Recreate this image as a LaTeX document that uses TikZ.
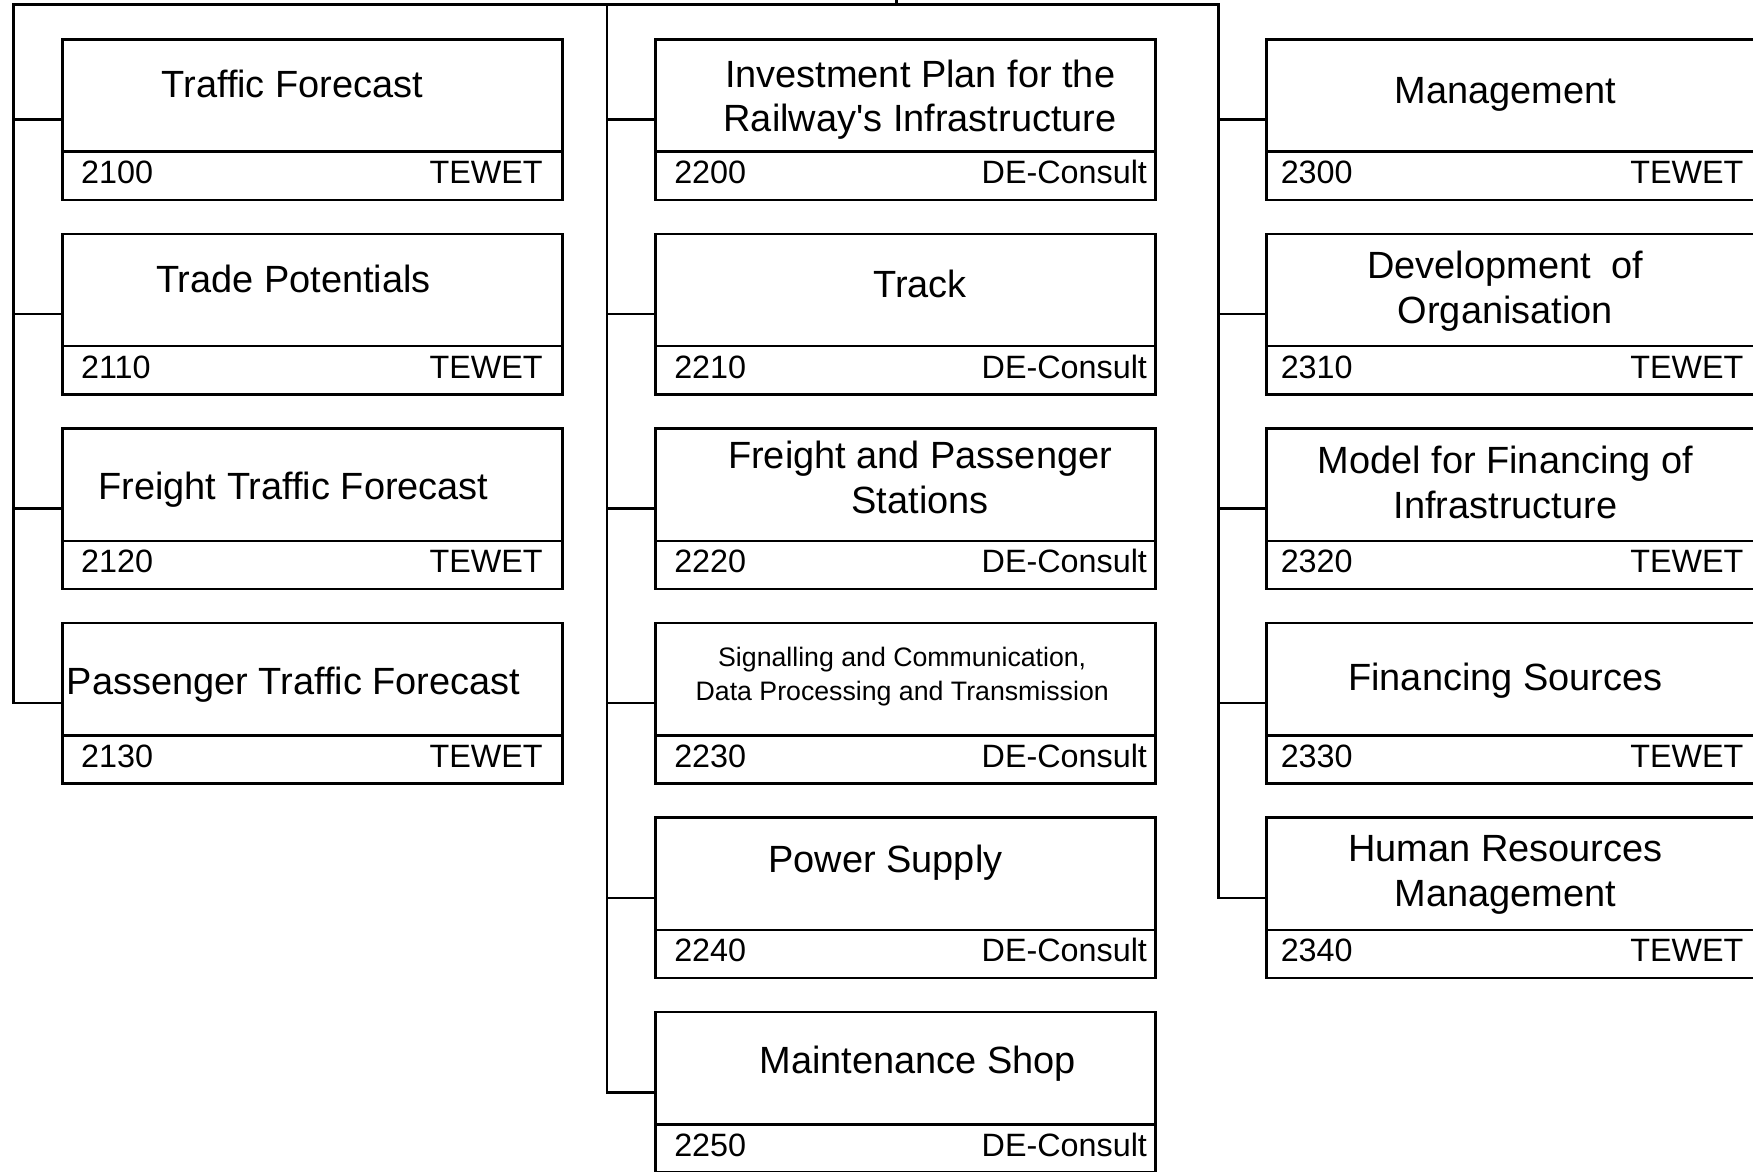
\documentclass[tikz,border=0pt]{standalone}
\usepackage{fontspec}
\setmainfont{Liberation Sans}
\usetikzlibrary{calc}

\tikzset{
  tree/.style={line width=0.7pt},
  wpbox/.style={draw, line width=0.7pt, minimum width=5cm, minimum height=1.604cm,
    inner sep=0pt, outer sep=0pt},
  wptitle/.style={align=center, inner sep=0pt, font=\fontsize{10.8}{12.7}\selectfont},
  wpsmall/.style={wptitle, font=\fontsize{7.6}{9.5}\selectfont},
  wpcode/.style={inner sep=0pt, font=\fontsize{9.2}{11}\selectfont},
}

\begin{document}
\begin{tikzpicture}[x=0.01118cm, y=-0.01118cm]
\useasboundingbox (0,0) rectangle (1568,1048);
\clip (0,0) rectangle (1568,1048);

\coordinate (top) at (802,0);
\coordinate (lspine) at (12,4);
\coordinate (mspine) at (543,4);
\coordinate (rspine) at (1090,4);

% left column: 2100 ... 2130
\foreach \r/\code/\title/\dx/\dy in {0/2100/Traffic Forecast/-18/-10,
    1/2110/Trade Potentials/-17/-10,
    2/2120/Freight Traffic Forecast/-17/5,
    3/2130/Passenger Traffic Forecast/-17/5}{
  \node[wpbox] (b\code) at (279.5,107+174*\r) {};
  \draw[tree] ($(b\code.south west)+(0,-43)$) -- ($(b\code.south east)+(0,-43)$);
  \node[wptitle] (t\code) at ($(b\code.north)+(\dx,50+\dy)$) {\title};
  \node[wpcode, anchor=base west] (c\code) at ($(b\code.south west)+(16,-14.5)$) {\code};
  \node[wpcode, anchor=base east] (f\code) at ($(b\code.south east)+(-17,-14.5)$) {TEWET};
  \draw[tree] (b\code.west) -- (b\code.west -| lspine);
}

% middle column: 2200 ... 2250
\foreach \r/\code/\title/\dx/\dy/\st in {0/2200/{Investment Plan for the\\Railway\textquotesingle s Infrastructure}/13/4/wptitle,
    1/2210/Track/13/-5/wptitle,
    2/2220/{Freight and Passenger\\Stations}/13/-6/wptitle,
    3/2230/{Signalling and Communication,\\Data Processing and Transmission}/-3/-2/wpsmall,
    4/2240/Power Supply/-18/-10/wptitle,
    5/2250/Maintenance Shop/11/-4/wptitle}{
  \node[wpbox] (b\code) at (810,107+174*\r) {};
  \draw[tree] ($(b\code.south west)+(0,-43)$) -- ($(b\code.south east)+(0,-43)$);
  \node[\st] (t\code) at ($(b\code.north)+(\dx,50+\dy)$) {\title};
  \node[wpcode, anchor=base west] (c\code) at ($(b\code.south west)+(16,-14.5)$) {\code};
  \node[wpcode, anchor=base east] (f\code) at ($(b\code.south east)+(-7,-14.5)$) {DE-Consult};
  \draw[tree] (b\code.west) -- (b\code.west -| mspine);
}

% right column: 2300 ... 2340
\foreach \r/\code/\title/\dx/\dy in {0/2300/Management/-10/-1,
    1/2310/{Development\ \ of\\Organisation}/-10/1,
    2/2320/{Model for Financing of\\Infrastructure}/-10/-2,
    3/2330/Financing Sources/-10/2,
    4/2340/{Human Resources\\Management}/-10/1}{
  \node[wpbox] (b\code) at (1356.5,107+174*\r) {};
  \draw[tree] ($(b\code.south west)+(0,-43)$) -- ($(b\code.south east)+(0,-43)$);
  \node[wptitle] (t\code) at ($(b\code.north)+(\dx,50+\dy)$) {\title};
  \node[wpcode, anchor=base west] (c\code) at ($(b\code.south west)+(12,-14.5)$) {\code};
  \node[wpcode, anchor=base east] (f\code) at ($(b\code.south east)+(-20,-14.5)$) {TEWET};
  \draw[tree] (b\code.west) -- (b\code.west -| rspine);
}

% spines
\draw[tree] (top) -- (top |- lspine);
\draw[tree] (b2130.west) -| (lspine) -- (rspine) |- (b2340.west);
\draw[tree] (mspine) |- (b2250.west);
\end{tikzpicture}
\end{document}
